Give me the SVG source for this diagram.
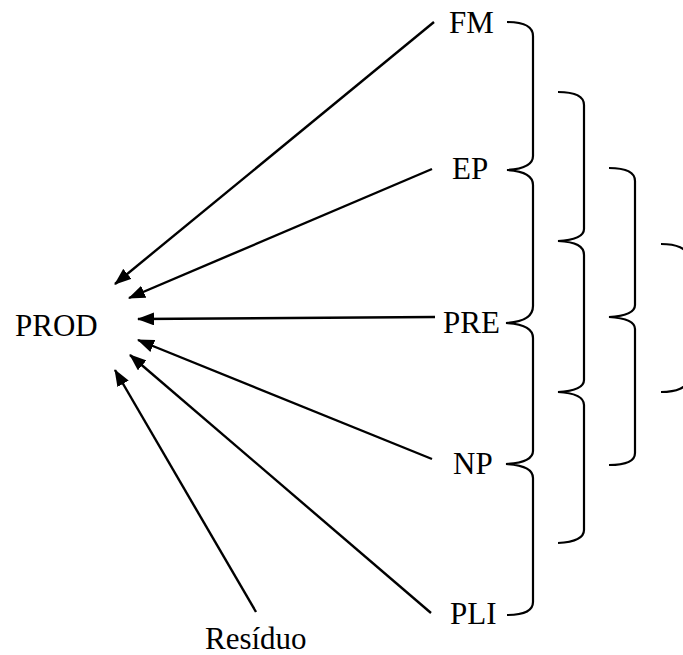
<svg xmlns="http://www.w3.org/2000/svg" width="683" height="655" viewBox="0 0 683 655">
<style>
text{font-family:"Liberation Serif","Times New Roman",serif;font-size:31px;fill:#000}
.c line{stroke:#000;stroke-width:2.4;marker-end:url(#ah)}
.b{fill:none;stroke:#000;stroke-width:2.2}
</style>
<defs>
<marker id="ah" markerUnits="userSpaceOnUse" viewBox="0 0 17 13" refX="16" refY="6.5" markerWidth="17" markerHeight="13" orient="auto">
<path d="M0,0 L17,6.5 L0,13 Z" fill="#000"/>
</marker>
</defs>
<g id="PROD"><text x="15" y="336">PROD</text></g>
<g id="FM"><text x="449" y="33">FM</text></g>
<g id="EP"><text x="452" y="179">EP</text></g>
<g id="PRE"><text x="443" y="333">PRE</text></g>
<g id="NP"><text x="453" y="474">NP</text></g>
<g id="PLI"><text x="450" y="624">PLI</text></g>
<g id="Residuo"><text x="205" y="649">Resíduo</text></g>
<g id="braces">
<path class="b" d="M507,22 C524,22 533,26 533,36 V156 C533,165 524,169 507,170 C524,171 533,176 533,185 V306 C533,316 524,322 506,323 C524,324 533,329 533,338 V451 C533,459 524,463 506,464 C524,465 533,469 533,478 V602 C533,611 524,615 507,615"/>
<path class="b" d="M558,92 C576,92 584,96 584,105 V229 C584,236 576,240 558,241 C576,242 584,246 584,255 V380 C584,387 576,391 558,392 C576,393 584,397 584,405 V530 C584,538 576,542 558,543"/>
<path class="b" d="M609,168 C627,168 635,172 635,181 V305 C635,312 627,316 609,317 C627,318 635,322 635,329 V453 C635,461 627,465 609,465"/>
<path class="b" d="M661,244 C676,244 688,248 688,258 V378 C688,388 676,392 661,392"/>
</g>
<g class="c" id="connectors">
<line x1="434" y1="22" x2="115" y2="284"/>
<line x1="432" y1="169" x2="129" y2="298"/>
<line x1="435" y1="317" x2="138" y2="319"/>
<line x1="432" y1="459" x2="138" y2="340"/>
<line x1="431" y1="613" x2="130" y2="355"/>
<line x1="256" y1="612" x2="115" y2="370"/>
</g>
</svg>
